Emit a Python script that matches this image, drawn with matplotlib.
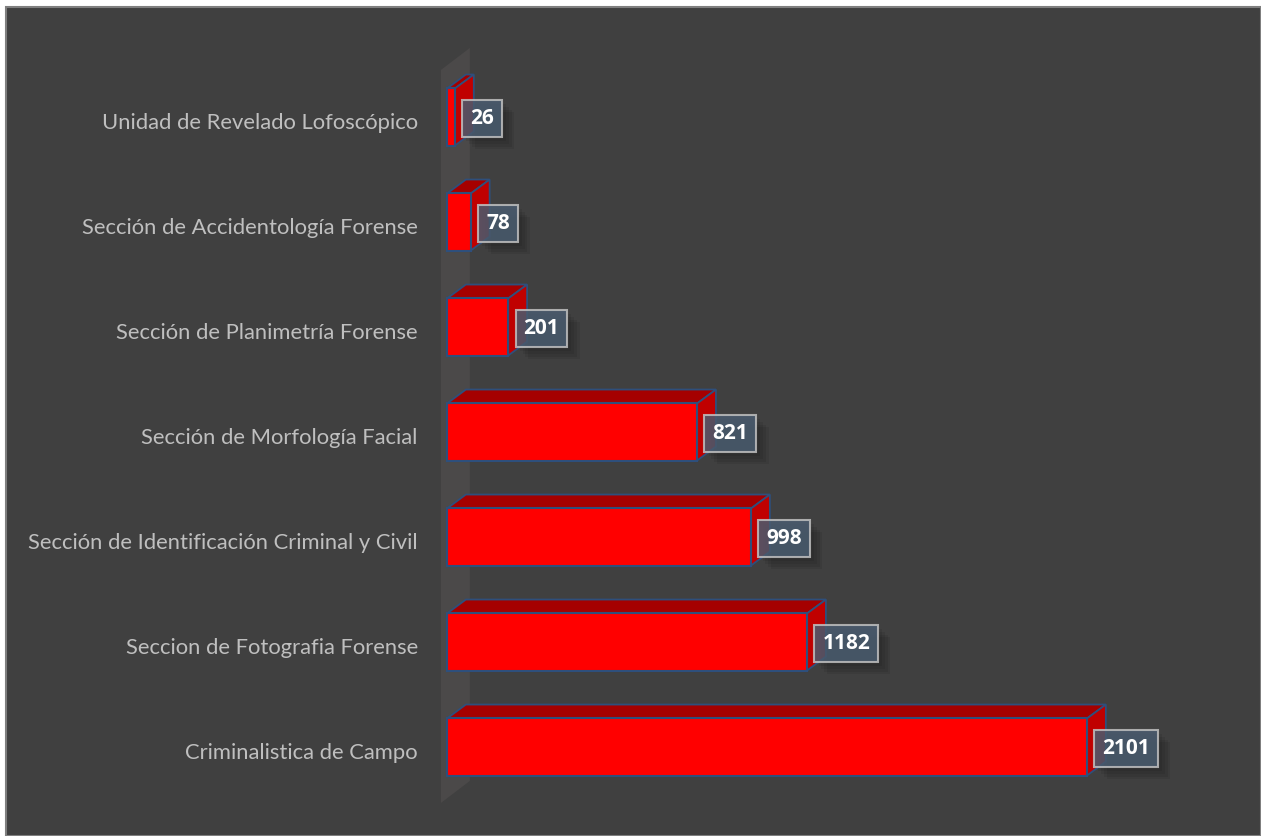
import numpy as np
import matplotlib
matplotlib.use('Agg')
import matplotlib.pyplot as plt
from matplotlib.patches import Polygon, Rectangle
import matplotlib.transforms as mtransforms
import matplotlib.patheffects as pe

# data, top to bottom as shown in the chart
categories = ['Unidad de Revelado Lofoscópico',
              'Sección de Accidentología Forense',
              'Sección de Planimetría Forense',
              'Sección de Morfología Facial',
              'Sección de Identificación Criminal y Civil',
              'Seccion de Fotografia Forense',
              'Criminalistica de Campo']
values = [26, 78, 201, 821, 998, 1182, 2101]

# draw bottom-up
cats = categories[::-1]
vals = values[::-1]
ypos = np.arange(len(cats))

W, H = 1261, 836
fig = plt.figure(figsize=(W/100., H/100.), dpi=100)
fig.patch.set_facecolor('white')
fig.patches.append(Rectangle((6./W, 0), 1-6./W, 1-7./H, transform=fig.transFigure,
                             facecolor='#404040', edgecolor='#7f7f7f', linewidth=1.5,
                             zorder=-5))

# axes: x=0 sits at pixel 447, 0.3046 px per unit
ax_left, ax_right = 447./W, 1250./W
ax_bot, ax_top = (H-810.)/H, (H-54.)/H
ax = fig.add_axes([ax_left, ax_bot, ax_right-ax_left, ax_top-ax_bot])
ax.set_zorder(2)
ax.set_facecolor('none')
ax.set_xlim(0, (1250-447)/0.3046)
ax.set_ylim(-0.6, len(cats)-1+0.6)
for s in ax.spines.values():
    s.set_visible(False)
ax.set_xticks([])

# 3d depth in data units
dx = 62.
dy = 0.133
h = 0.543

# side wall
wx0, wx1 = -20., 75.
wy0, wy1 = -0.533, len(cats)-1+0.448
wall = Polygon([(wx0, wy0), (wx1, wy0+0.21), (wx1, wy1+0.21), (wx0, wy1)],
               closed=True, facecolor='#4b4949', edgecolor='none', clip_on=False, zorder=1)
ax.add_patch(wall)

edge = '#2e4f7c'
for y, v in zip(ypos, vals):
    top = Polygon([(0, y+h/2), (v, y+h/2), (v+dx, y+h/2+dy), (dx, y+h/2+dy)],
                  closed=True, facecolor='#a50000', edgecolor=edge, linewidth=1.3,
                  clip_on=False, zorder=2)
    side = Polygon([(v, y-h/2), (v+dx, y-h/2+dy), (v+dx, y+h/2+dy), (v, y+h/2)],
                   closed=True, facecolor='#c00000', edgecolor=edge, linewidth=1.3,
                   clip_on=False, zorder=2)
    ax.add_patch(top)
    ax.add_patch(side)
ax.barh(ypos, vals, height=h, left=0, color='#ff0000', edgecolor=edge,
        linewidth=1.5, zorder=3, clip_on=False)

# value labels with soft shadow
shadow = [pe.SimplePatchShadow(offset=(o, -o), shadow_rgbFace='black', alpha=0.07)
          for o in (9, 7, 5, 3)]
for y, v in zip(ypos, vals):
    t = ax.annotate(str(v), xy=(v, y), xytext=(11, -1), textcoords='offset points',
                    ha='left', va='center', fontsize=15, fontweight='bold',
                    family='Open Sans', color='white', zorder=5,
                    bbox=dict(boxstyle='square,pad=0.38', facecolor='#4a5c70',
                              edgecolor='#c0c0c0', linewidth=1.5, alpha=0.85))
    t.get_bbox_patch().set_path_effects(shadow + [pe.Normal()])

# category labels
ax.set_yticks(ypos)
ax.set_yticklabels(cats, fontsize=15.8, family='Lato', color='#bfbfbf')
ax.tick_params(axis='y', length=0, pad=21)
shift = mtransforms.ScaledTranslation(0, -4/100., fig.dpi_scale_trans)
for lbl in ax.get_yticklabels():
    lbl.set_transform(lbl.get_transform() + shift)

fig.savefig('out.png', dpi=100, facecolor=fig.get_facecolor())
